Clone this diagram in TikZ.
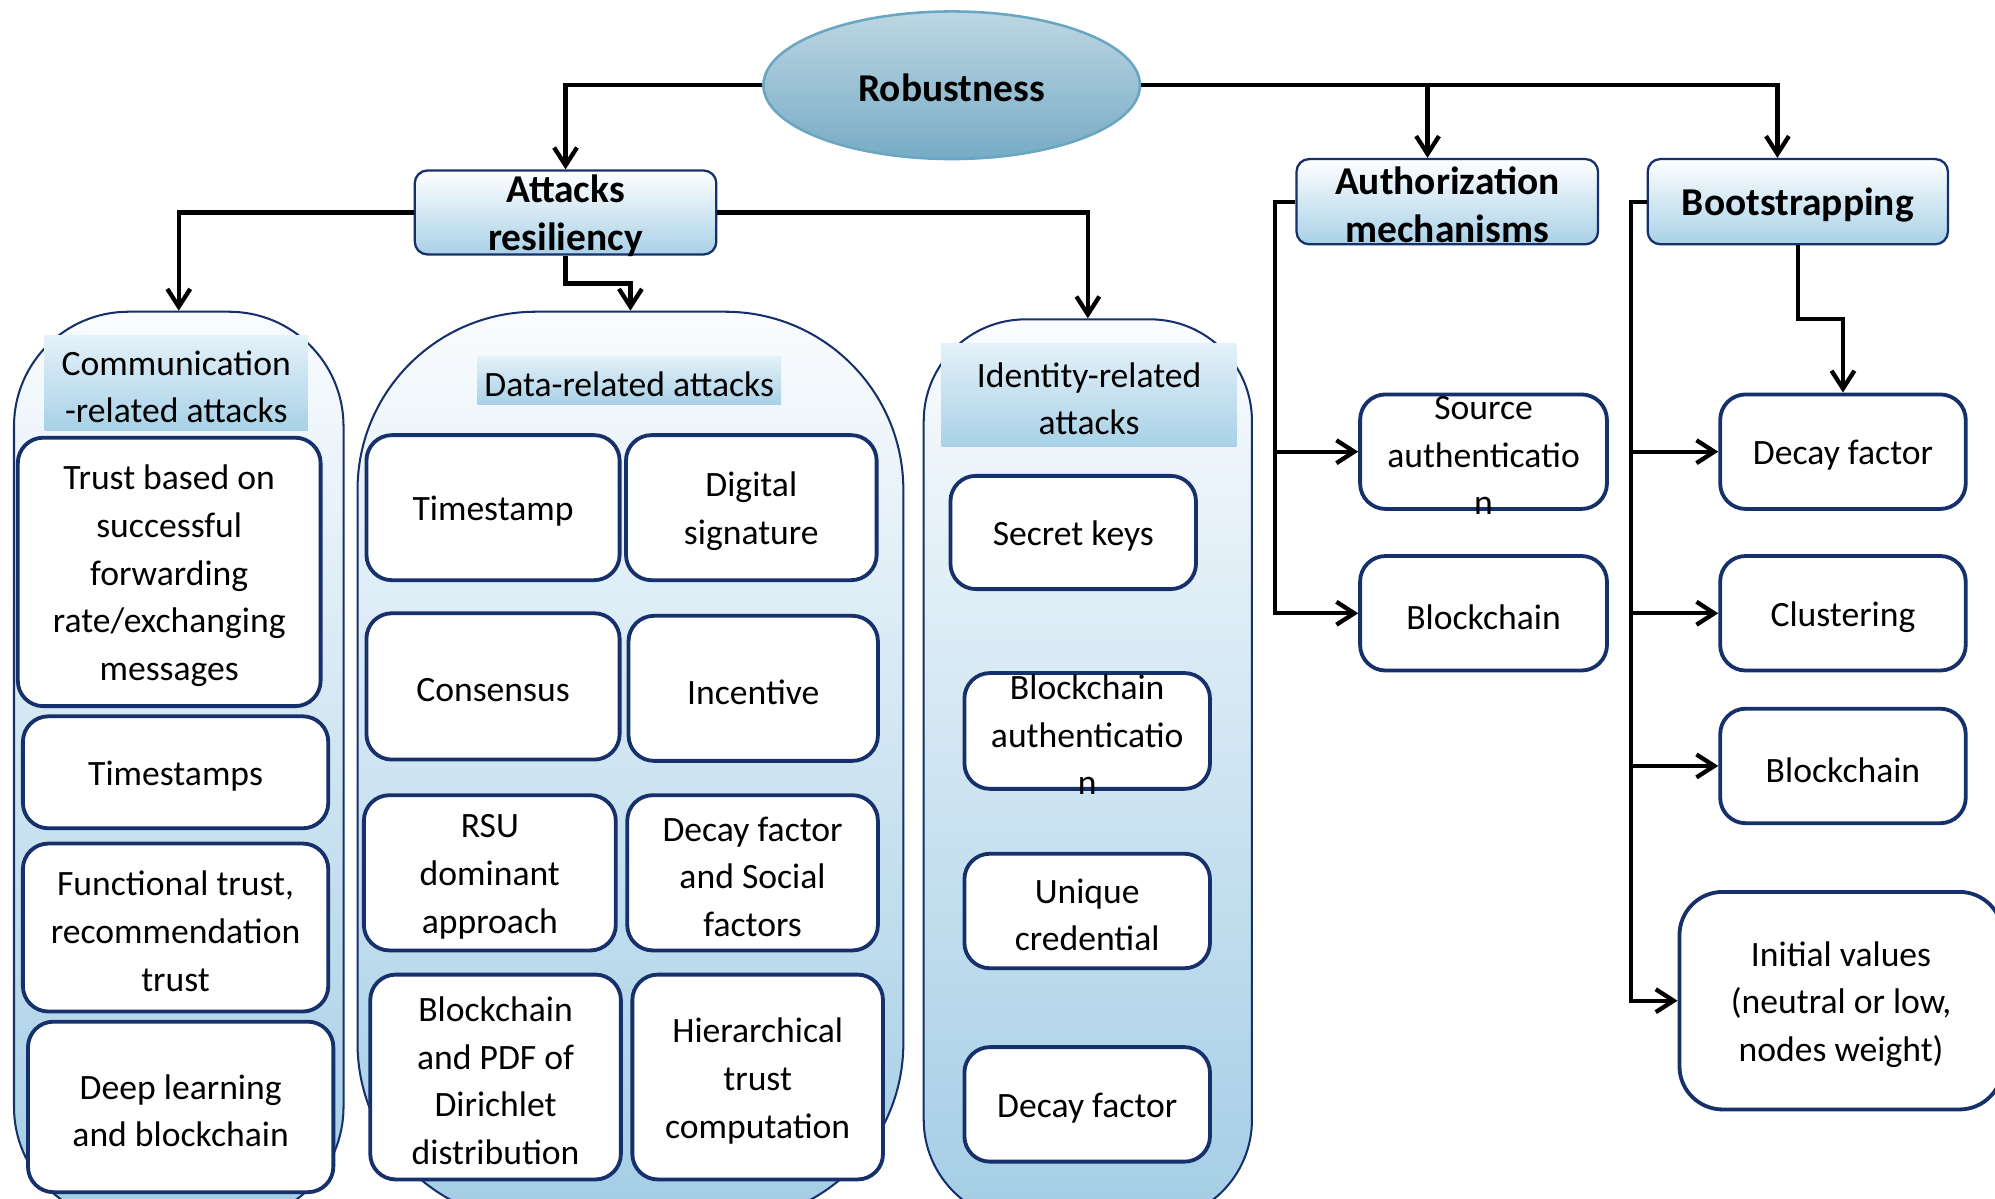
\documentclass[tikz,border=0pt]{standalone}
\usepackage{fontspec}
\setmainfont{Carlito}
\usetikzlibrary{arrows.meta,fit,shapes.geometric}
\definecolor{navy}{HTML}{15306A}
\definecolor{paneltop}{HTML}{FAFCFE}
\definecolor{panelbot}{HTML}{A3CDE5}
\definecolor{hdrtop}{HTML}{E4F1F8}
\definecolor{hdrbot}{HTML}{A8D1E7}
\definecolor{elltop}{HTML}{BDD7E3}
\definecolor{ellbot}{HTML}{77ABC5}
\definecolor{ellline}{HTML}{6AA5C2}

\tikzset{
  body/.style={font=\fontsize{14}{18.75}\selectfont, align=center, inner sep=0pt, yshift=-1.5pt},
  head/.style={font=\bfseries\fontsize{15.5}{19}\selectfont, align=center, inner sep=0pt, yshift=-1.2pt},
  item/.style={draw=navy, line width=1.5pt, fill=white, rounded corners=10pt},
  titlebox/.style={draw=navy, line width=0.9pt, rounded corners=5pt, top color=white, bottom color=hdrbot},
  panel/.style={draw=navy, line width=0.8pt, top color=paneltop, bottom color=panelbot},
  label band/.style={top color=hdrtop, bottom color=hdrbot},
  conn/.style={line width=1.7pt, -{Straight Barb[length=7pt,width=9pt]}},
}

% box from two corners, with its text centred on it (text may run over the edge)
\newcommand\boxnode[8]{%
  \node[fit={(#4,#5)(#6,#7)}, inner sep=0pt, #1] (#3) {};
  \node[#2] at (#3.center) {#8};}

\begin{document}
\begin{tikzpicture}[x=0.5pt,y=-0.5pt]
\clip (0,0) rectangle (1568,942);
\useasboundingbox (0,0) rectangle (1568,942);

% root
\node[ellipse, draw=ellline, line width=1pt, top color=elltop, bottom color=ellbot,
      minimum width=148pt, minimum height=58pt] (rob) at (748,67) {};
\node[head] at (rob.center) {Robustness};

% second level
\boxnode{titlebox}{head}{att}{326}{134}{563}{200}{Attacks\\resiliency}
\boxnode{titlebox}{head}{auth}{1019}{125}{1256}{192}{Authorization\\mechanisms}
\boxnode{titlebox}{head}{boot}{1295}{125}{1531}{192}{Bootstrapping}

% attack panels
\boxnode{panel, rounded corners=45pt}{body}{comm}{11}{245}{270}{960}{}
\boxnode{panel, rounded corners=70pt}{body}{data}{281}{245}{710}{960}{}
\boxnode{panel, rounded corners=40pt}{body}{iden}{726}{251}{984}{960}{}

\boxnode{label band}{body}{commhd}{35}{264}{242}{338}{Communication\\-related attacks}
\boxnode{label band}{body}{datahd}{375}{280}{614}{318}{Data-related attacks}
\boxnode{label band}{body}{idenhd}{740}{270}{972}{351}{Identity-related\\attacks}

% communication-related
\boxnode{item}{body}{c1}{14}{344}{252}{555}{Trust based on\\successful\\forwarding\\rate/exchanging\\messages}
\boxnode{item}{body}{c2}{18}{563}{258}{651}{Timestamps}
\boxnode{item}{body}{c3}{18}{663}{258}{795}{Functional trust,\\recommendation\\trust}
\boxnode{item}{body}{c4}{22}{803}{262}{937}{Deep learning\\and blockchain}

% data-related
\boxnode{item}{body}{d1}{288}{342}{487}{456}{Timestamp}
\boxnode{item}{body}{d2}{492}{342}{689}{456}{Digital\\signature}
\boxnode{item}{body}{d3}{288}{482}{487}{597}{Consensus}
\boxnode{item}{body}{d4}{494}{484}{690}{598}{Incentive}
\boxnode{item}{body}{d5}{286}{625}{484}{747}{RSU\\dominant\\approach}
\boxnode{item}{body}{d6}{493}{625}{690}{747}{Decay factor\\and Social\\factors}
\boxnode{item}{body}{d7}{291}{766}{488}{927}{Blockchain\\and PDF of\\Dirichlet\\distribution}
\boxnode{item}{body}{d8}{497}{766}{694}{927}{Hierarchical\\trust\\computation}

% identity-related
\boxnode{item}{body}{i1}{747}{374}{940}{463}{Secret keys}
\boxnode{item}{body}{i2}{758}{529}{951}{620}{Blockchain\\authenticatio\\n}
\boxnode{item}{body}{i3}{758}{671}{951}{761}{Unique\\credential}
\boxnode{item}{body}{i4}{758}{823}{951}{913}{Decay factor}

% authorization
\boxnode{item}{body}{a1}{1069}{310}{1263}{400}{Source\\authenticatio\\n}
\boxnode{item}{body}{a2}{1069}{437}{1263}{527}{Blockchain}

% bootstrapping
\boxnode{item}{body}{b1}{1352}{310}{1545}{400}{Decay factor}
\boxnode{item}{body}{b2}{1352}{437}{1545}{527}{Clustering}
\boxnode{item}{body}{b3}{1352}{557}{1545}{647}{Blockchain}
\boxnode{item, rounded corners=17pt}{body}{b4}{1320}{701}{1574}{872}{Initial values\\(neutral or low,\\nodes weight)}

% connectors
\coordinate (authin) at ([xshift=-7.75pt]auth.north);
\coordinate (bootin) at ([xshift=-8pt]boot.north);
\draw[conn] (rob.west) -| (att.north);
\draw[conn] (rob.east) -| (bootin);
\draw[conn] (rob.east -| authin) -- (authin);

\draw[conn] (att.west) -| (comm.north);
\draw[conn] (att.east) -| (iden.north);
\draw[conn] (att.south) -- ++(0,22) -| (data.north);

\draw[conn] (auth.west) -- ++(-16,0) coordinate (aspine) |- (a2.west);
\draw[conn] (aspine |- a1.west) -- (a1.west);

\draw[conn] (boot.west) -- ++(-12,0) coordinate (bspine) |- (b4.west);
\draw[conn] (bspine |- b1.west) -- (b1.west);
\draw[conn] (bspine |- b2.west) -- (b2.west);
\draw[conn] (bspine |- b3.west) -- (b3.west);
\draw[conn] (boot.south) -- ++(0,58) -| (b1.north);
\end{tikzpicture}
\end{document}
